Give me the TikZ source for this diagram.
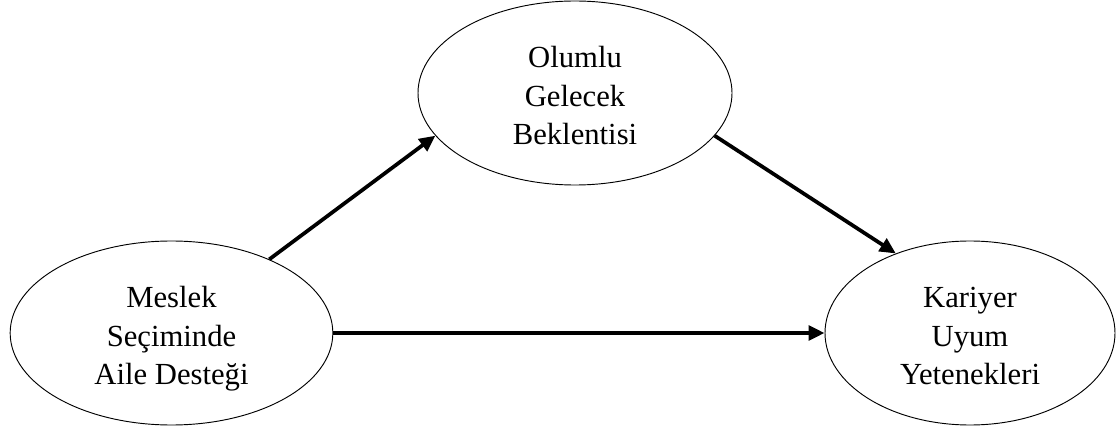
\documentclass[tikz,border=0pt]{standalone}
\usepackage{fontspec}
\setmainfont{Liberation Serif}
\usetikzlibrary{shapes.geometric,arrows.meta}
% three centred lines, set a little lower than the middle of the ellipse
\newcommand\lowlines[1]{\raisebox{-4pt}[\height][\depth]{\begin{tabular}{@{}c@{}}#1\end{tabular}}}
\begin{document}
\begin{tikzpicture}[x=0.75pt,y=-0.75pt,
  construct/.style={draw,ellipse,line width=0.7pt,inner sep=0pt,
    font=\fontsize{23}{28.8}\selectfont,minimum height=138pt},
  path/.style={line width=2.8pt,-{Triangle[length=12pt,width=11pt]}}]
\useasboundingbox (0,0) rectangle (1120,427);
\node[construct,minimum width=242pt] (L) at (171.5,333) {\lowlines{Meslek\\Seçiminde\\Aile Desteği}};
\node[construct,minimum width=235.5pt] (T) at (575,93) {\lowlines{Olumlu\\Gelecek\\Beklentisi}};
\node[construct,minimum width=217.5pt] (R) at (970,333) {\lowlines{Kariyer\\Uyum\\Yetenekleri}};
\draw[path] (L.37) -- (T.197);
\draw[path] (T.343) -- (R.133);
\draw[path] (L.east) -- (R.west);
\end{tikzpicture}
\end{document}
